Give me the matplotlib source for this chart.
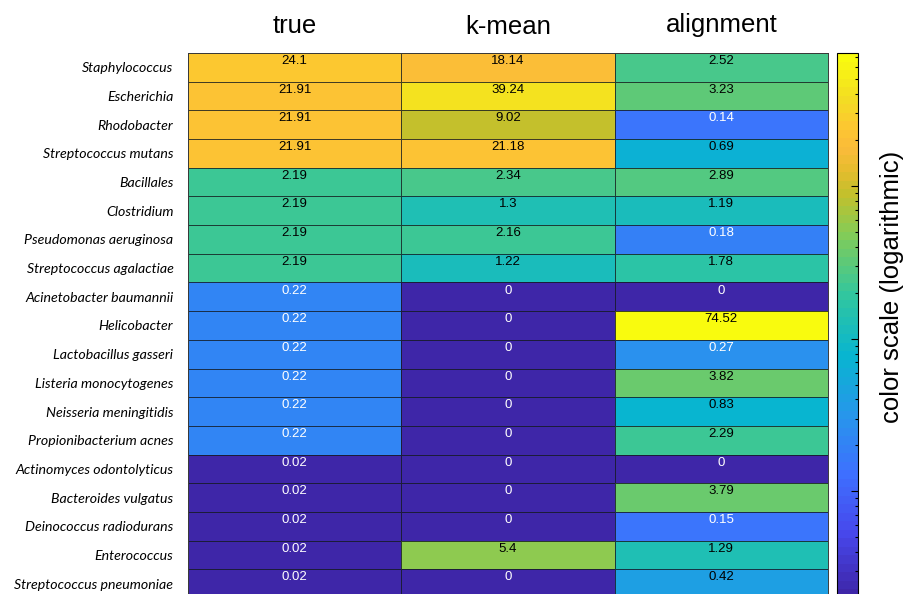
import numpy as np
import matplotlib
matplotlib.use("Agg")
import matplotlib.pyplot as plt
from matplotlib.colors import LinearSegmentedColormap, LogNorm
from matplotlib.textpath import TextPath
from matplotlib.font_manager import FontProperties
from matplotlib import transforms

# ---- data -------------------------------------------------------------
species = [
    "Staphylococcus", "Escherichia", "Rhodobacter", "Streptococcus mutans",
    "Bacillales", "Clostridium", "Pseudomonas aeruginosa",
    "Streptococcus agalactiae", "Acinetobacter baumannii", "Helicobacter",
    "Lactobacillus gasseri", "Listeria monocytogenes", "Neisseria meningitidis",
    "Propionibacterium acnes", "Actinomyces odontolyticus",
    "Bacteroides vulgatus", "Deinococcus radiodurans", "Enterococcus",
    "Streptococcus pneumoniae",
]
methods = ["true", "k-mean", "alignment"]

true_vals = [24.1, 21.91, 21.91, 21.91, 2.19, 2.19, 2.19, 2.19, 0.22, 0.22,
             0.22, 0.22, 0.22, 0.22, 0.02, 0.02, 0.02, 0.02, 0.02]
kmean_vals = [18.14, 39.24, 9.02, 21.18, 2.34, 1.3, 2.16, 1.22, 0, 0,
              0, 0, 0, 0, 0, 0, 0, 5.4, 0]
align_vals = [2.52, 3.23, 0.14, 0.69, 2.89, 1.19, 0.18, 1.78, 0, 74.52,
              0.27, 3.82, 0.83, 2.29, 0, 3.79, 0.15, 1.29, 0.42]

# ---- colour map (parula-like) ----------------------------------------
parula_pts = [
    (0.000, "#3e26a8"), (0.111, "#4747eb"), (0.222, "#3e6fff"),
    (0.333, "#2796eb"), (0.444, "#08b5d0"), (0.556, "#31c69f"),
    (0.667, "#81cc59"), (0.743, "#c2c02c"), (0.790, "#e6bc2e"),
    (0.830, "#fabb3a"), (0.865, "#fdc532"), (0.920, "#f3dc24"),
    (1.000, "#f9fb0e"),
]
cmap = LinearSegmentedColormap.from_list("parula", parula_pts, N=64)
cmap.set_bad(cmap(0.0))
cmap.set_under(cmap(0.0))

data = np.array([true_vals, kmean_vals, align_vals]).T
positive = data[data > 0]
norm = LogNorm(vmin=positive.min(), vmax=positive.max(), clip=True)
masked = np.ma.masked_less_equal(data, 0)

# ---- figure -----------------------------------------------------------
W, H, DPI = 904, 594, 100
fig = plt.figure(figsize=(W / DPI, H / DPI), dpi=DPI)

def fig_box(x0, y0, x1, y1):
    return [x0 / W, 1 - y1 / H, (x1 - x0) / W, (y1 - y0) / H]

ax = fig.add_axes(fig_box(188, 53, 828, 598))
nrows, ncols = data.shape
mesh = ax.pcolormesh(np.arange(ncols + 1), np.arange(nrows + 1), masked,
                     cmap=cmap, norm=norm, edgecolors=(0.08, 0.1, 0.12, 0.8),
                     linewidth=0.6, snap=True)
ax.set_xlim(0, ncols)
ax.set_ylim(nrows, 0)
for s in ax.spines.values():
    s.set_color("#3a3a3a")
    s.set_linewidth(0.7)

ax.set_xticks([])
ax.set_yticks(np.arange(nrows) + 0.5)
ax.set_yticklabels(species, fontfamily="Lato", fontstyle="italic", fontsize=10.2)
ax.tick_params(axis="y", length=0, pad=10.5)

# value labels inside the cells
val_font = dict(fontfamily="Liberation Sans", fontsize=9.5, ha="center", va="center")
for i in range(nrows):
    for j in range(ncols):
        v = data[i, j]
        frac = norm(v) if v > 0 else 0.0
        color = "white" if frac < 0.35 else "black"
        ax.text(j + 0.5, i + 0.28, f"{v:g}", color=color, **val_font)

# column titles, centred on their glyph ink
title_prop = FontProperties(family="Liberation Sans", size=18.5)
title_y = 25  # pixel row of the ink centre
for j, name in enumerate(methods):
    ext = TextPath((0, 0), name, prop=title_prop).get_extents()
    ink_mid = (ext.y0 + ext.y1) / 2.0  # points above the baseline
    base_px = title_y + ink_mid * DPI / 72.0
    tr = transforms.blended_transform_factory(ax.transData, fig.transFigure)
    ax.text(j + 0.5, 1 - base_px / H, name, transform=tr, ha="center",
            va="baseline", fontproperties=title_prop, clip_on=False)

# colour bar
cax = fig.add_axes(fig_box(837.5, 53, 857.5, 598))
cb = fig.colorbar(mesh, cax=cax)
cb.outline.set_edgecolor("black")
cb.outline.set_linewidth(0.8)
cax.yaxis.set_ticks_position("right")
cax.tick_params(which="major", direction="in", length=5, width=0.8, labelright=False)
cax.tick_params(which="minor", direction="in", length=2.5, width=0.8, labelright=False)

fig.text(892 / W, 1 - 287 / H, "color scale (logarithmic)", rotation=90,
         ha="center", va="center", fontfamily="Liberation Sans", fontsize=18.5)

fig.savefig("out.png", dpi=DPI)
